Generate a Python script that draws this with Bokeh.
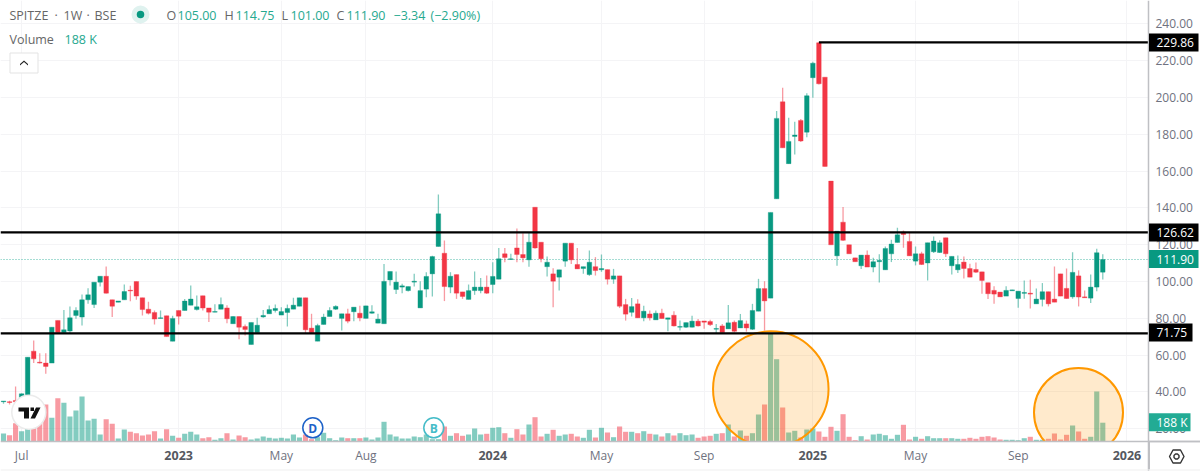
from bokeh.plotting import figure
from bokeh.models import (Range1d, FixedTicker, NumeralTickFormatter, Label,
                          ColumnDataSource, PolyAnnotation)
from bokeh.embed import file_html
from bokeh.resources import INLINE

opens = [34.6,34.6,35.3,36.7,38,62.1,56.1,55.6,55.6,78.8,
72.2,73,81.5,80.6,90,87.4,99.6,102.8,90,88.7,
90,95.2,99.9,91.1,84.9,83.1,79.9,81.3,67.5,84.2,
84.2,87.1,84.7,92.2,85.6,83.3,84.9,85.6,77,80.9,
75.5,65.7,72.2,80.7,82.4,84.2,81.7,83.1,84.9,86.5,
91.1,74.6,67.5,76.6,80.9,84.9,79.9,82.4,83.5,82.7,
79.9,82.7,77.3,77,100.8,95.6,96.9,95,99.6,85.6,
95.8,104.1,119,115.3,96.9,103.7,94.3,90.2,95,95,
96.9,98.3,101.2,115,111.9,118.2,114.6,111.7,140.3,121.3,
108,104.1,102.3,111,120.8,109.2,107,103.7,108,106.3,
106.4,101.2,103,87.4,83.2,87.8,80.2,82.3,79.1,82.7,
79.4,81.6,75.1,75.1,75.1,78.4,78.5,78.2,74,75.8,
74.2,77.8,74.7,76.9,74,83.8,96.1,90.9,144.9,197.6,
164,178.8,187.5,181.1,210.7,229.7,211,154.5,113.9,132.2,
119.9,112.8,108.5,114.3,107.8,110.7,106.3,115,121.2,126.8,
121.7,111,115,110,116.1,115.7,123.7,108.5,106.3,110.5,
107,106.5,105.2,99.3,95.1,94.2,92,94.9,90.7,93.5,
93.6,87.8,90.2,94.4,90.4,104.1,96.2,91.6,103,91.6,
90.9,96.9,105]
highs = [35,35.2,42.9,39.1,58.8,67.9,61,61,75.1,78.8,
84.5,86.4,86,92.9,96.3,99.6,102.8,108.1,90,89.4,
98.3,97.7,99.9,91.1,88.9,84.2,84.2,81.3,81.3,84.2,
90.5,97.8,92.3,92.2,85.6,87.6,91.2,87.1,81,80.9,
76.6,77.7,80.2,84.5,86.9,87.4,86,87.4,91.1,91.1,
91.1,82.4,77,82.4,86,87.1,82.4,85.1,86,86.7,
86.7,87.1,82.4,109.5,105.4,105.4,98.7,97.2,104.1,100.1,
105,114,147.2,122.2,105,103.7,94.3,98.3,105.4,101.9,
103.2,110.4,118.2,118.2,115,128.7,126.2,126.9,140.3,121.3,
113.5,107.2,106.3,120.8,120.8,118.2,108,116.8,113.2,114.6,
106.4,106.8,103,90.5,91,90.3,86.7,84.2,84.2,85.2,
80.2,83.8,78.7,77.6,81.3,79.5,78.5,79.1,76.9,76.9,
87.2,78.7,82.3,78.7,87.8,101.4,100.1,137.5,192.6,205.2,
189,186.8,188.2,202.3,219.4,229.86,211,154.5,127.3,140.4,
119.9,112.8,114.3,116.8,112.8,114.7,119,122.6,129.2,127.7,
126.3,119,116.1,121,124.4,122.3,123.7,113.6,114.1,113.6,
109.6,110.3,105.2,99.3,97.3,94.2,97.3,95.4,94.7,100.5,
100.9,96.2,99.1,94.4,108.1,104.1,107,115.9,106,95.1,
103.8,117.7,114.75]
lows = [33.5,33.1,34,36,38,55.6,55.4,49.8,55.6,72.2,
72,72,79.7,76,87.8,85.6,97.2,93.4,80.6,88.7,
90,89.2,90,81.5,82,76.6,79.9,70,67.5,76.6,
84.2,87.1,84.2,84.2,78,83.3,84.9,77.3,77,68.6,
70.6,65.7,72,80.2,82.4,83.1,81.7,75.5,84.9,86.5,
71.5,72,67.5,76.6,81,84.5,73.3,77.3,78.4,78.4,
79.9,82.4,77.3,77,97.8,93.2,93.6,94.5,97.2,85.6,
91.4,91.8,119,89.3,93.6,90.5,90.5,90.2,92.7,93.6,
93.2,93.6,101.2,110.4,111.9,110.4,110.4,108,117.8,110.4,
102.7,86,95,108,109.5,106.8,104.1,103,103.2,105.2,
98.3,98.7,85.5,78.7,80.9,80.2,78.4,78.7,79.1,79.8,
72.9,75.5,73.3,74.7,75,75.5,74.2,75.8,71.5,72.2,
74.2,72.2,74.7,72.7,73.6,83.8,73.3,90.9,144.9,172.6,
164,169,175.7,178.4,199.8,207,162.5,119.9,108.5,122,
115,110.7,106.7,107.8,105,99.4,106.3,110.5,121.2,118.3,
113.9,108.7,108.9,100.5,115.4,115.4,113.2,103.8,104.5,101.6,
102.3,104.5,93.3,90.4,87.8,91.6,92,94.9,85.7,90.6,
85.3,87.8,86.4,86.4,88.7,92,90.6,90.6,86.4,91.1,
88.2,94.7,101]
closes = [35,34.2,34.6,38.9,58.8,57.9,55.6,53.8,75.1,72.2,
73.7,80.2,84.2,90,92.7,99.6,102.8,93.6,86.5,89.4,
94.5,94.8,92,84.7,82.7,79.5,80.2,70,79.9,81.1,
89.3,90.4,86.2,85.5,83.3,83.6,87.4,79.7,80.9,75.1,
73.9,77.7,76.2,81.5,84.7,85.3,83.6,85.3,87.1,91.1,
73.7,72.2,76,80.6,84.2,86.4,82.4,78.4,86,80.2,
86.7,83.5,79.5,100,105.4,99.6,97.6,97.2,100.1,95,
102.7,113.5,136.7,97.2,102.8,93.6,91.8,95,96.9,96.9,
93.6,102.7,112.3,113,112.3,114.6,112.8,121.3,118.2,112.3,
110.4,100.1,106.3,120.8,111.7,106.8,108,110.4,105.9,107,
101.2,103,86.5,82.2,86.3,80.2,83.8,80.2,82.7,79.8,
80.2,75.8,75.5,77.6,78.4,75.8,77.8,76.5,74.4,72.2,
77.5,72.9,78.7,74.7,84.2,96.1,89.4,137.5,188.6,172.6,
176.1,179.5,176.3,200.9,218.6,207.4,162.5,119.9,127.3,122.3,
115,110.7,114.3,107.8,110.7,111.4,117.9,120.3,125.3,125.5,
113.9,115,109.2,121,121.9,121,115,113.6,109.2,107,
102.3,105,100.5,93.3,93.1,91.6,95.1,95.4,94.7,94,
93.1,90.4,94.4,87.8,88.7,92,90.7,104.9,91.5,91.1,
96.9,115.6,111.9]
volumes_k = [80,63,183,103,127,200,230,370,237,433,
387,250,310,450,210,227,70,223,177,30,
120,97,83,60,70,103,30,123,57,37,
77,97,70,33,43,17,33,83,20,60,
43,20,30,50,37,30,37,30,70,40,
70,23,43,87,33,13,40,33,33,33,
40,20,40,197,70,50,30,30,50,43,
70,23,23,150,57,83,57,70,130,70,
77,137,143,83,37,123,70,170,243,50,
77,117,57,70,77,50,37,117,40,137,
90,43,150,97,97,83,103,77,70,50,
83,60,83,63,70,37,50,57,77,83,
170,50,110,57,83,270,370,1080,823,340,
90,107,40,120,130,100,47,147,107,273,
47,13,53,20,70,77,63,27,67,167,
20,47,27,53,33,33,33,33,27,27,
37,27,47,53,40,20,17,17,13,33,
47,17,17,27,80,20,67,160,100,27,
47,500,188]

price_ticks = [20,40,60,80,100,120,140,160,180,200,220,240]
month_ticks = {3:"Jul",46:"May",60:"Aug",99:"May",116:"Sep",151:"May",168:"Sep"}
year_ticks = {29:"2023",81:"2024",134:"2025",186:"2026"}
level_high, level_mid, level_low = 229.86, 126.62, 71.75
last_close = 111.90
last_volume_label = "188 K"

GREEN, RED = "#089981", "#F23645"
FONT = "Open Sans"
GRAY = "#6f7280"

n = len(closes)
idx = list(range(n))
cols = [GREEN if c >= o else RED for o, c in zip(opens, closes)]
src = ColumnDataSource(dict(x=idx, o=opens, h=highs, l=lows, c=closes, v=volumes_k, col=cols,
                            top=[max(a, b) for a, b in zip(opens, closes)],
                            bot=[min(a, b) for a, b in zip(opens, closes)]))

# frame covers the whole canvas; axes are pinned inside it
W, H = 1200, 471
PLOT_R, PLOT_B = 1148, 441
dx = lambda px: (px - 3) / 6.04
dy = lambda py: 240 - (py - 23.3) / 1.84
X0, X1 = dx(0), dx(W)
Y0, Y1 = dy(H), dy(0)
AX_K, AX_P = dx(PLOT_R), dy(PLOT_B)

p = figure(width=W, height=H, frame_width=W, frame_height=H,
           x_range=Range1d(X0, X1), y_range=Range1d(Y0, Y1),
           y_axis_location="right", x_axis_location="below",
           output_backend="svg", toolbar_location=None,
           min_border=0, background_fill_color="white", border_fill_color="white", outline_line_color=None)
p.extra_y_ranges["vol"] = Range1d(-300, 4410)

AXIS = "#bfc0c4"
ya = p.yaxis[0]
ya.fixed_location = AX_K
ya.ticker = FixedTicker(ticks=price_ticks)
ya.formatter = NumeralTickFormatter(format="0.00")
ya.major_tick_line_color = None; ya.minor_tick_line_color = None
ya.axis_line_color = AXIS; ya.axis_line_width = 1.5
ya.major_label_standoff = 1
ya.major_label_text_font = FONT; ya.major_label_text_font_size = "12px"; ya.major_label_text_color = GRAY

xa = p.xaxis[0]
xa.fixed_location = AX_P
xa.ticker = FixedTicker(ticks=list(month_ticks))
xa.major_label_overrides = month_ticks
xa.major_tick_line_color = None; xa.minor_tick_line_color = None
xa.axis_line_color = AXIS; xa.axis_line_width = 1.5
xa.major_label_standoff = -1
xa.major_label_text_font = FONT; xa.major_label_text_font_size = "12px"; xa.major_label_text_color = GRAY

p.xgrid[0].ticker = FixedTicker(ticks=list(month_ticks) + list(year_ticks))
p.ygrid[0].ticker = FixedTicker(ticks=price_ticks)
p.xgrid[0].grid_line_color = "#f4f4f6"; p.ygrid[0].grid_line_color = "#f4f4f6"

# volume
p.vbar(x="x", width=0.85, top="v", bottom=0, y_range_name="vol", source=src,
       fill_color="col", line_color=None, fill_alpha=0.5)

# orange circles (centred on the two volume spikes)
p.scatter([dx(770.3)], [dy(388.6)], size=115.5, fill_color="#FF9800", fill_alpha=0.2,
          line_color="#FF9800", line_width=2)
p.scatter([dx(1078)], [dy(412)], size=89, fill_color="#FF9800", fill_alpha=0.2,
          line_color="#FF9800", line_width=2)

# last price line
p.segment([X0], [last_close], [AX_K], [last_close], line_color="#22AB94", line_alpha=0.8,
          line_width=1, line_dash="1 2")

# candles
p.segment(x0="x", x1="x", y0="l", y1="h", source=src, line_color="col", line_alpha=0.5, line_width=1.3)
p.vbar(x="x", width=0.76, top="top", bottom="bot", source=src, fill_color="col", line_color="col",
       line_alpha=0.35, line_width=1)

# horizontal levels
p.segment([X0, X0, highs.index(max(highs))], [level_mid, level_low, level_high],
          [AX_K, AX_K, AX_K], [level_mid, level_low, level_high], line_color="black", line_width=2.2)

# white strips hide everything past the plot edges (grid, circles, lines), beneath the axes
p.quad(left=[X0], right=[X1], bottom=[Y0], top=[AX_P], fill_color="white", line_color=None)
p.quad(left=[AX_K], right=[X1], bottom=[Y0], top=[Y1], fill_color="white", line_color=None)

SY = lambda py: H - py

def txt(x, y, s, color=GRAY, size="12px", style="normal", **kw):
    l = Label(x=x, y=SY(y), x_units="screen", y_units="screen", text=s, text_color=color, text_font=FONT,
              text_font_size=size, text_font_style=style, text_baseline="middle", **kw)
    p.add_layout(l)

# badges
p.scatter([dx(312.3)], [dy(427.3)], size=20, fill_color="white", fill_alpha=0.6, line_color="#1E62C8", line_width=1.5)
txt(312.3, 427.8, "D", "#1E62C8", "12px", "bold", text_align="center")
p.scatter([dx(433.3)], [dy(427.3)], size=20, fill_color="white", fill_alpha=0.6, line_color="#45BCC8", line_width=1.5)
txt(433.3, 427.8, "B", "#45BCC8", "12px", "bold", text_align="center")

# tradingview badge
p.scatter([dx(28.3)], [dy(411.7)], size=34, fill_color="white", line_color="#ebebeb", line_width=1.5)
def poly(xs, ys, fill="#111111", line=None, alpha=1.0, width=1):
    p.add_layout(PolyAnnotation(xs=xs, ys=[SY(v) for v in ys], xs_units="screen", ys_units="screen",
                                fill_color=fill, fill_alpha=alpha, line_color=line, line_alpha=1.0, line_width=width))
poly([18, 28.5, 28.5, 23.5, 23.5, 18], [407, 407, 418, 418, 411, 411])
poly([30, 33.5, 33.5, 30], [407, 407, 410.5, 410.5])
poly([35.5, 40, 34.5, 30], [407, 407, 418, 418])

# header
HEAD = "#666666"
for x, s in [(9, "SPITZE"), (54, "\u00b7"), (63, "1W"), (86, "\u00b7"), (94, "BSE")]:
    txt(x, 15, s, HEAD, "12.5px")
p.scatter([dx(140)], [dy(14)], size=18, fill_color=GREEN, fill_alpha=0.13, line_color=None)
p.scatter([dx(140)], [dy(14)], size=7.5, fill_color=GREEN, line_color=None)
TEAL = "#26A98F"
for x, s, c in [(166, "O", HEAD), (177, "105.00", TEAL), (224, "H", HEAD), (235, "114.75", TEAL),
                (281, "L", HEAD), (290, "101.00", TEAL), (336, "C", HEAD), (346, "111.90", TEAL),
                (393, "\u22123.34", TEAL), (430, "(\u22122.90%)", TEAL)]:
    txt(x, 15, s, c, "12.5px")
txt(9, 39, "Volume", HEAD, "12.5px")
txt(64, 39, last_volume_label, TEAL, "12.5px")

# collapse button
poly([9.5, 37.5, 37.5, 9.5], [52.5, 52.5, 72.5, 72.5], fill="white", line="#e3e3e3")
poly([19.5, 23.5, 27.5, 27.5, 23.5, 19.5], [63.5, 60, 63.5, 65, 61.5, 65], fill="#222222")

# year ticks
for k, s in year_ticks.items():
    txt(3 + 6.04 * k, 455, s, "#555860", "12.5px", "bold", text_align="center")

# right-hand boxes
def box(y, s, bg, fg="white", x1=1198):
    poly([1148.5, x1, x1, 1148.5], [y - 9, y - 9, y + 9, y + 9], fill=bg)
    txt(1156, y, s, fg, "12px")
box(42, "229.86", "black")
box(232, "126.62", "black")
box(258.5, "111.90", GREEN)
box(332, "71.75", "black", x1=1192)
box(421.7, last_volume_label, "#22AB94", x1=1190)

# settings hexagon + bottom lines
poly([1148, 1149.5, 1149.5, 1148], [441, 441, 469, 469], fill=AXIS)
poly([0, 1200, 1200, 0], [469, 469, 470, 470], fill="#f0f0f0")
poly([1148, 1200, 1200, 1148], [440.3, 440.3, 441.8, 441.8], fill=AXIS)
poly([1169, 1172.5, 1180, 1183.5, 1180, 1172.5], [456, 449.5, 449.5, 456, 462.5, 462.5], fill=None, line="#333333", width=1.4)
poly([1173.5, 1175, 1177, 1178.5, 1178.5, 1177, 1175, 1173.5], [455, 453.5, 453.5, 455, 457, 458.5, 458.5, 457], fill=None, line="#333333", width=1.4)

open("out.html", "w").write(file_html(p, INLINE))
